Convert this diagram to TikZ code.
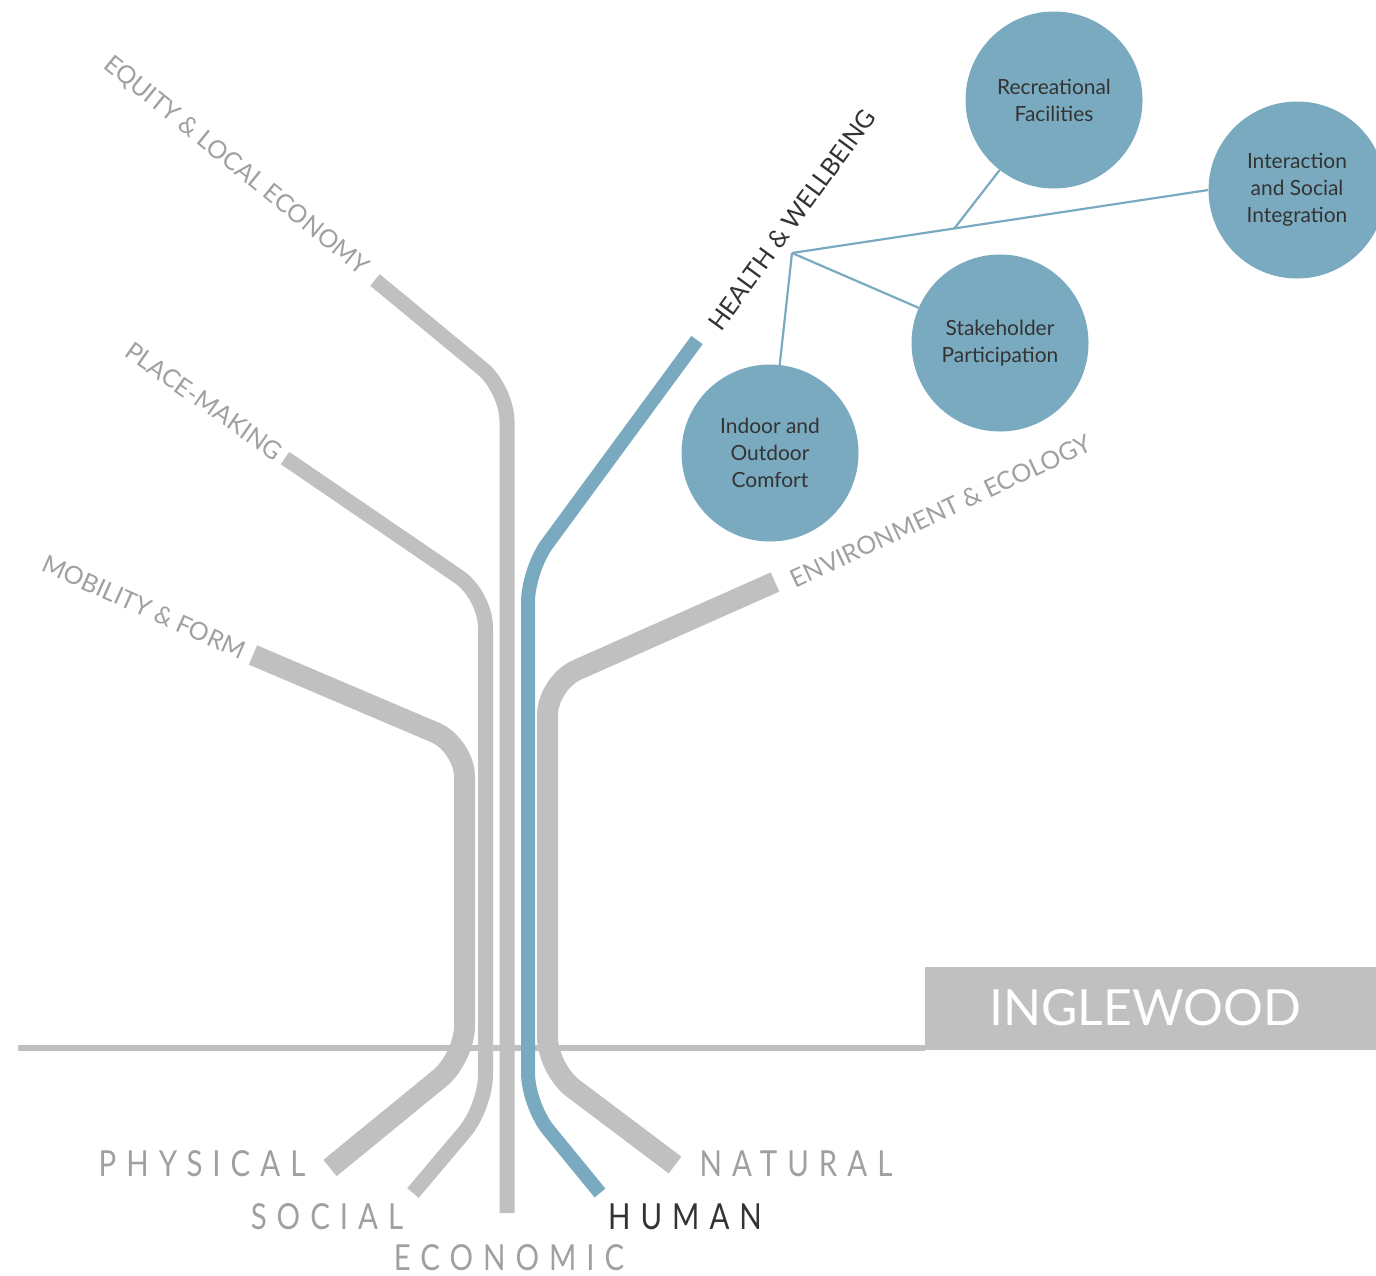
\documentclass[tikz,border=0pt]{standalone}
\usepackage{fontspec}
\setmainfont{Lato}
\newfontfamily\widefont[LetterSpace=34]{Lato}
\usetikzlibrary{calc}

\definecolor{stemgray}{RGB}{192,192,192}
\definecolor{hwblue}{RGB}{122,170,191}
\definecolor{labelgray}{RGB}{160,160,160}
\definecolor{darktext}{RGB}{51,51,51}

\begin{document}
\begin{tikzpicture}[
      x=1bp, y=-1bp,
      stem/.style={
            draw=stemgray, line width=#1bp,
            rounded corners=32bp
        },
      theme/.style={
            font=\fontsize{25}{30}\selectfont,
            text=labelgray, inner sep=0pt
        },
      capital/.style={
            font=\widefont\fontsize{36}{40}\selectfont,
            text=labelgray, xscale=0.82, inner sep=0pt
        },
      goal/.style={
            circle, fill=hwblue, minimum size=177bp,
            inner sep=0pt, align=center, text=darktext,
            font=\fontsize{21}{27}\selectfont
        },
      link/.style={draw=hwblue, line width=2.2bp}
      ]
    \useasboundingbox (0,0) rectangle (1376,1275);

    \draw[stemgray, line width=6bp] (18,1048) -- (925,1048);
    \fill[stemgray] (925,967) rectangle (1376,1050);
    \node[text=white, font=\fontsize{50}{52}\selectfont] (town) at (1145,1008) {INGLEWOOD};

    \draw[stem=21] (253,655) -- (464.5,745) -- (464.5,1058) -- (330,1168);
    \draw[stem=15] (285,458) -- (485.5,595) -- (485.5,1107) -- (413,1193);
    \draw[stem=15] (375,280) -- (507,389) -- (507,1213);
    \draw[stem=21] (775,582) -- (547.5,683) -- (547.5,1069) -- (675,1165);
    \draw[stem=14, draw=hwblue] (697,340) -- (528,570) -- (528,1105) -- (600,1193);

    \node[theme, rotate=-39] (equity) at (236,166) {EQUITY \& LOCAL ECONOMY};
    \node[theme, rotate=-35] (place) at (204,401) {PLACE-MAKING};
    \node[theme, rotate=-24] (mobility) at (144,607) {MOBILITY \& FORM};
    \node[theme, rotate=54, text=darktext] (health) at (792,220) {HEALTH \& WELLBEING};
    \node[theme, rotate=25] (environment) at (941,511) {ENVIRONMENT \& ECOLOGY};

    \node[capital] (physical) at (202,1164) {PHYSICAL};
    \node[capital] (social) at (327,1217) {SOCIAL};
    \node[capital] (economic) at (509,1258) {ECONOMIC};
    \node[capital, text=darktext] (human) at (685,1217) {HUMAN};
    \node[capital] (natural) at (796,1164) {NATURAL};

    \node[goal] (recre) at (1054,100) {Recreational\\Facilities};
    \node[goal] (inter) at (1297,190) {Interaction\\and Social\\Integration};
    \node[goal] (stake) at (1000,343) {Stakeholder\\Participation};
    \node[goal] (indoor) at (770,453) {Indoor and\\Outdoor\\Comfort};

    \coordinate (hub) at (792,253);
    \coordinate (fork) at ($(hub)!0.39!(inter.west)$);
    \draw[link] (hub) -- (inter.west);
    \draw[link] (hub) -- (stake);
    \draw[link] (hub) -- (indoor);
    \draw[link] (fork) -- (recre);
  \end{tikzpicture}
\end{document}
